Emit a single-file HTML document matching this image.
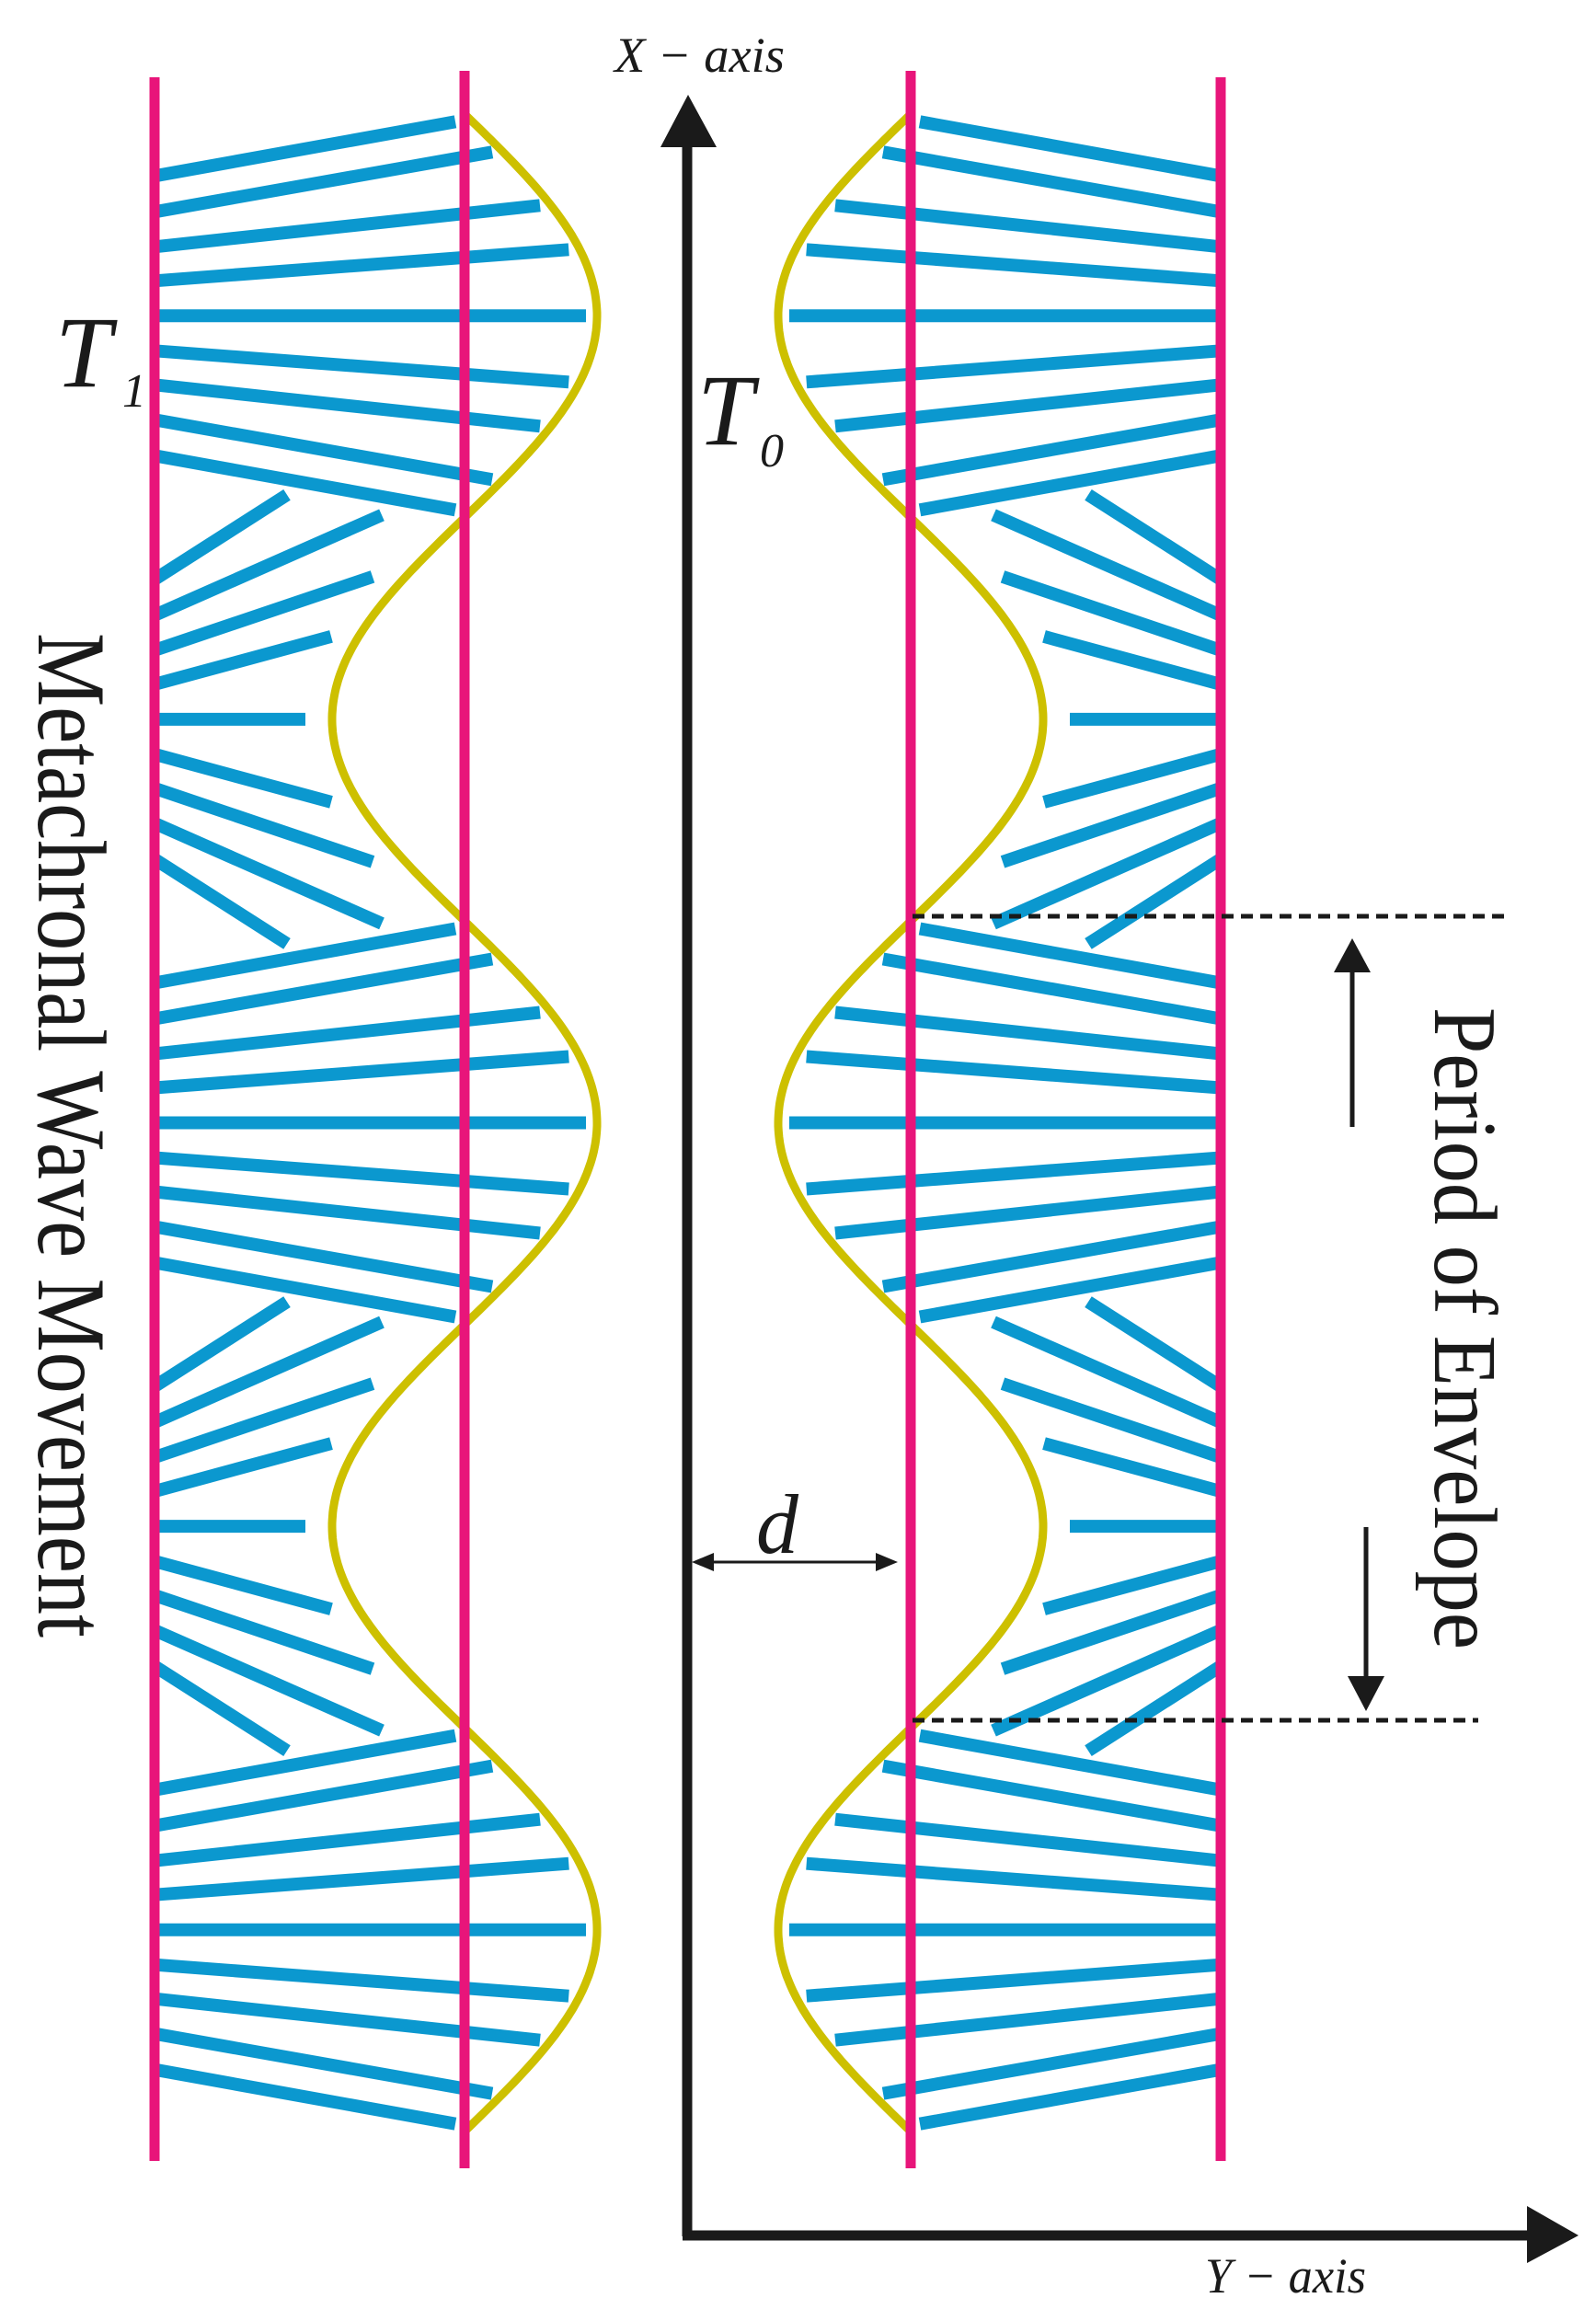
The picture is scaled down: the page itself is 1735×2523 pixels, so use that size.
<!DOCTYPE html>
<html><head><meta charset="utf-8">
<style>
html,body{margin:0;padding:0;background:#fff;}
svg{display:block;}
text{font-family:"Liberation Serif","Times New Roman",serif;fill:#1a1a1a;}
</style></head>
<body>
<svg id="s" width="1735" height="2523" viewBox="0 0 1735 2523" xmlns="http://www.w3.org/2000/svg">
<rect width="1735" height="2523" fill="#fff"/>
<g id="L"></g>
<use href="#L" transform="translate(1495,0) scale(-1,1)"/>
<line x1="747" y1="150" x2="747" y2="2431" stroke="#1a1a1a" stroke-width="11"/>
<polygon points="748,103 718,160 779,160" fill="#1a1a1a"/>
<line x1="742" y1="2430" x2="1665" y2="2430" stroke="#1a1a1a" stroke-width="11"/>
<polygon points="1716,2430 1660,2398 1660,2460" fill="#1a1a1a"/>
<line x1="760" y1="1698" x2="965" y2="1698" stroke="#1a1a1a" stroke-width="3"/>
<polygon points="752,1698 776,1688 776,1708" fill="#1a1a1a"/>
<polygon points="976,1698 952,1688 952,1708" fill="#1a1a1a"/>
<line x1="992" y1="996" x2="1641" y2="996" stroke="#1a1a1a" stroke-width="5" stroke-dasharray="13,8"/>
<line x1="992" y1="1870" x2="1607" y2="1870" stroke="#1a1a1a" stroke-width="5" stroke-dasharray="13,8"/>
<line x1="1470" y1="1050" x2="1470" y2="1225" stroke="#1a1a1a" stroke-width="5"/>
<polygon points="1470,1020 1450,1057 1490,1057" fill="#1a1a1a"/>
<line x1="1485" y1="1660" x2="1485" y2="1830" stroke="#1a1a1a" stroke-width="5"/>
<polygon points="1485,1860 1465,1822 1505,1822" fill="#1a1a1a"/>
<text font-family="Liberation Serif, serif" x="668" y="78" font-size="54" font-style="italic" textLength="185" lengthAdjust="spacingAndGlyphs">X − axis</text>
<text font-family="Liberation Serif, serif" x="1310" y="2492" font-size="54" font-style="italic" textLength="175" lengthAdjust="spacingAndGlyphs">Y − axis</text>
<text font-family="Liberation Serif, serif" x="60" y="420" font-size="110" font-style="italic">T</text>
<text font-family="Liberation Serif, serif" x="133" y="442" font-size="52" font-style="italic">1</text>
<text font-family="Liberation Serif, serif" x="758" y="483" font-size="110" font-style="italic">T</text>
<text font-family="Liberation Serif, serif" x="826" y="507" font-size="52" font-style="italic">0</text>
<text font-family="Liberation Serif, serif" x="822" y="1688" font-size="92" font-style="italic">d</text>
<text font-family="Liberation Serif, serif" transform="translate(42,1234) rotate(90)" x="0" y="0" font-size="106" text-anchor="middle" textLength="1092" lengthAdjust="spacingAndGlyphs">Metachronal Wave Movement</text>
<text font-family="Liberation Serif, serif" transform="translate(1560,1444) rotate(90)" x="0" y="0" font-size="98" text-anchor="middle" textLength="698" lengthAdjust="spacingAndGlyphs">Period of Envelope</text>
</svg>
<script>
(function(){
  var NS="http://www.w3.org/2000/svg";
  var g=document.getElementById("L");
  var y0=124, H=438.6, A=144, xi=505, xo=168;
  function wave(y){return xi+A*Math.sin(Math.PI*(y-y0)/H);}
  function line(x1,y1,x2,y2,c,w){
    var l=document.createElementNS(NS,"line");
    l.setAttribute("x1",x1);l.setAttribute("y1",y1);
    l.setAttribute("x2",x2);l.setAttribute("y2",y2);
    l.setAttribute("stroke",c);l.setAttribute("stroke-width",w);
    g.appendChild(l);
  }
  var lo=[0,38,75,113,152];
  var rb=[0,72,120,178,211];
  var ri=[0,90,155,222,244];
  var rix=[332,360,405,415,312];
  for(var k=0;k<5;k++){
    var c=y0+H*(k+0.5);
    for(var j=-4;j<=4;j++){
      var a=Math.abs(j), s=j<0?-1:1;
      var yl=c+s*lo[a], yr, xr;
      if(k%2==0){
        yr=c+s*rb[a];
        xr=(a==4)?495:wave(yr)-12;
      } else {
        yr=c+s*ri[a];
        xr=rix[a];
      }
      line(xo,yl,xr,yr,"#0b98cf",14);
    }
  }
  var d="M";
  for(var y=y0;y<=y0+5*H+0.1;y+=4){
    d+=wave(y).toFixed(1)+","+y.toFixed(1)+" ";
  }
  var p=document.createElementNS(NS,"path");
  p.setAttribute("d",d);p.setAttribute("fill","none");
  p.setAttribute("stroke","#cdc000");p.setAttribute("stroke-width",9);
  g.appendChild(p);
  line(xo,84,xo,2349,"#e8157a",11);
  line(xi,77,xi,2357,"#e8157a",11);
})();
</script>
</body></html>
